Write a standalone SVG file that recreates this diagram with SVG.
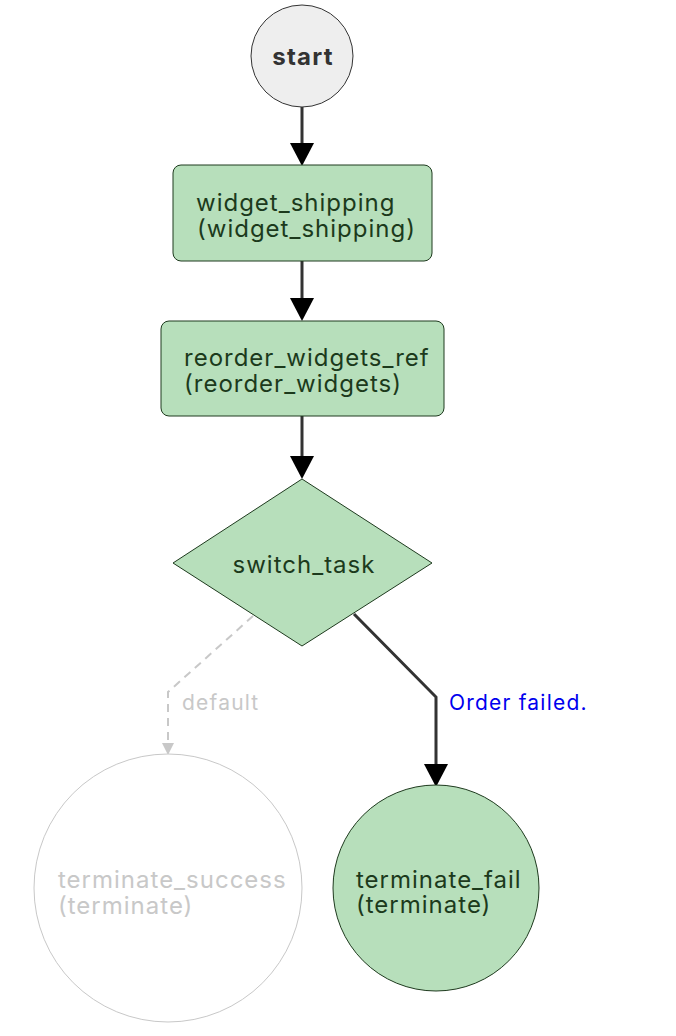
<svg xmlns="http://www.w3.org/2000/svg" width="676" height="1036" viewBox="0 0 676 1036">
<style>
.t{font-family:Inter,"Liberation Sans",sans-serif;font-size:24px;letter-spacing:1px;fill:#1c3a1c}
.l{font-family:Inter,"Liberation Sans",sans-serif;font-size:21px;letter-spacing:1.2px}
.task{fill:#b7dfbb;stroke:#1e3a1e;stroke-width:1}
.e{fill:none;stroke:#333;stroke-width:3}
.d{fill:none;stroke:#c8c8c8;stroke-width:2;stroke-dasharray:8,6}
</style>
<g id="connectors">
<path class="e" d="M302,107 V145"/><path d="M290,143 L314,143 L302,166 Z" fill="#000"/>
<path class="e" d="M302,261 V300"/><path d="M290,298 L314,298 L302,321 Z" fill="#000"/>
<path class="e" d="M302,416 V458"/><path d="M290,456 L314,456 L302,479 Z" fill="#000"/>
<path class="e" d="M354,614 L436,697 V766"/><path d="M424,764 L448,764 L436,787 Z" fill="#000"/>
<text class="l" x="449" y="710" fill="#0000ee">Order failed.</text>
<path class="d" d="M253,616 L168,692 V745"/><path d="M162,743 L174,743 L168,755 Z" fill="#c8c8c8"/>
<text class="l" x="182" y="710" fill="#c8c8c8">default</text>
</g>
<g id="start">
<circle cx="302" cy="56" r="51" fill="#eeeeee" stroke="#333" stroke-width="1"/>
<text x="303" y="65" text-anchor="middle" style="font-family:Inter,'Liberation Sans',sans-serif;font-size:24px;letter-spacing:1.2px;font-weight:bold;fill:#333">start</text>
</g>
<g id="widget_shipping">
<rect class="task" x="173" y="165" width="259" height="96" rx="8"/>
<text class="t" x="196" y="211">widget_shipping</text>
<text class="t" x="197" y="237">(widget_shipping)</text>
</g>
<g id="reorder_widgets_ref">
<rect class="task" x="161" y="321" width="283" height="95" rx="8"/>
<text class="t" x="184" y="366">reorder_widgets_ref</text>
<text class="t" x="184" y="392">(reorder_widgets)</text>
</g>
<g id="switch_task">
<polygon class="task" points="302,479 432,563 302,646 173,563"/>
<text class="t" x="304" y="573" text-anchor="middle">switch_task</text>
</g>
<g id="terminate_success">
<circle cx="168" cy="888" r="134" fill="#fff" stroke="#c8c8c8" stroke-width="1"/>
<text class="t" x="58" y="888" style="fill:#c8c8c8">terminate_success</text>
<text class="t" x="58" y="914" style="fill:#c8c8c8">(terminate)</text>
</g>
<g id="terminate_fail">
<circle class="task" cx="436" cy="888" r="103"/>
<text class="t" x="356" y="888">terminate_fail</text>
<text class="t" x="356" y="913">(terminate)</text>
</g>
</svg>
